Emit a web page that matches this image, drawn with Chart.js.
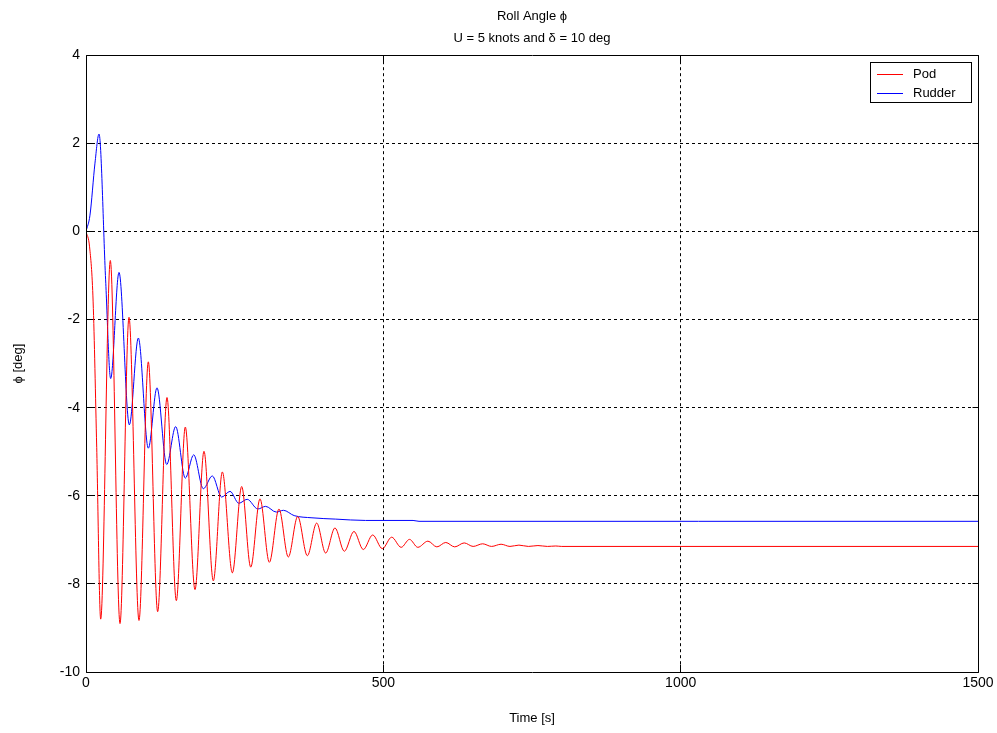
<!DOCTYPE html>
<html><head><meta charset="utf-8">
<script src="https://cdn.jsdelivr.net/npm/chart.js@4.4.1/dist/chart.umd.min.js"></script>
<style>html,body{margin:0;padding:0;background:#fff;overflow:hidden}#wrap{position:relative;width:997px;height:733px}canvas{display:block}</style>
</head><body><div id="wrap"><canvas id="c" width="997" height="733" style="width:997px;height:733px"></canvas></div>
<script>
const titleLines = ['Roll Angle \u03d5', 'U = 5 knots and \u03b4 = 10 deg'];
const xAxisTitle = 'Time [s]';
const yAxisTitle = '\u03d5 [deg]';
const seriesNames = ['Pod', 'Rudder'];
const seriesColors = ['#ff0000', '#0000ff'];
const xTickValues = [0, 500, 1000, 1500];
const yTickValues = [-10, -8, -6, -4, -2, 0, 2, 4];

const podTime = [0, 6, 12, 18, 24.7, 40.9, 57.2, 72.3, 89.1, 104.8, 120.5, 136.2, 151.9, 167.0, 183.3, 198.4, 214.1, 229.3, 246.1, 261.8, 277, 292.6, 308.3, 324.5, 340.2, 356, 372.2, 387.9, 403, 418.7, 434.4, 450.6, 466.3, 482.1, 498.3, 514, 530, 544, 558, 575, 590, 605, 620, 636, 651, 667, 682, 698, 713, 728, 744, 760, 776, 790, 800, 1500];
const podRoll = [0, -0.35, -1.6, -4.9, -8.8, -0.66, -8.9, -1.95, -8.83, -2.96, -8.63, -3.77, -8.38, -4.44, -8.13, -4.99, -7.93, -5.46, -7.75, -5.79, -7.62, -6.07, -7.51, -6.30, -7.39, -6.47, -7.36, -6.62, -7.30, -6.73, -7.26, -6.81, -7.22, -6.89, -7.20, -6.94, -7.17, -6.99, -7.17, -7.03, -7.16, -7.06, -7.16, -7.07, -7.15, -7.09, -7.15, -7.10, -7.15, -7.12, -7.15, -7.13, -7.15, -7.14, -7.15, -7.15];

const rudderTime = [0, 6.7, 15.1, 21.9, 33, 41.5, 55.5, 72.9, 88.0, 104.8, 119.4, 135.7, 150.8, 167.0, 181.1, 197.3, 212.4, 228.1, 242.2, 257, 271, 289, 302, 320, 332, 350, 380, 420, 470, 550, 560, 1500];
const rudderRoll = [0, 0.37, 1.55, 2.21, -1.1, -3.34, -0.93, -4.39, -2.42, -4.92, -3.55, -5.29, -4.43, -5.6, -5.07, -5.84, -5.55, -6.03, -5.9, -6.17, -6.08, -6.30, -6.24, -6.37, -6.33, -6.45, -6.50, -6.53, -6.56, -6.56, -6.58, -6.58];

const FONT = 'Liberation Sans, Arial, Helvetica, sans-serif';
const toXY = (xs, ys) => xs.map((x, i) => ({x: x, y: ys[i]}));
const alignPx = p => Math.round(p - 0.5) + 0.5;

const framePlugin = {
  id: 'frame',
  afterDraw(chart) {
    const {ctx, chartArea: a, scales: {x, y}} = chart;
    ctx.save();
    ctx.setLineDash([]);
    ctx.strokeStyle = '#000';
    ctx.lineWidth = 1;
    const L = alignPx(a.left), R = alignPx(a.right), T = alignPx(a.top), B = alignPx(a.bottom);
    ctx.beginPath();
    ctx.rect(L, T, R - L, B - T);
    x.ticks.forEach(t => {
      const px = alignPx(x.getPixelForValue(t.value));
      ctx.moveTo(px, B); ctx.lineTo(px, B - 8);
      ctx.moveTo(px, T); ctx.lineTo(px, T + 8);
    });
    y.ticks.forEach(t => {
      const py = alignPx(y.getPixelForValue(t.value));
      ctx.moveTo(L, py); ctx.lineTo(L + 6, py);
      ctx.moveTo(R, py); ctx.lineTo(R - 6, py);
    });
    ctx.stroke();
    // legend box
    const bw = 101, bh = 40;
    const bx = Math.round(a.right) - 108, by = Math.round(a.top) + 7;
    ctx.fillStyle = '#fff';
    ctx.fillRect(bx, by, bw, bh);
    ctx.strokeRect(bx + 0.5, by + 0.5, bw, bh);
    ctx.font = '13px ' + FONT;
    ctx.textBaseline = 'middle';
    ctx.textAlign = 'left';
    chart.data.datasets.forEach((ds, i) => {
      const cy = by + 12.5 + i * 19;
      ctx.strokeStyle = ds.borderColor;
      ctx.beginPath();
      ctx.moveTo(bx + 7, cy); ctx.lineTo(bx + 33, cy);
      ctx.stroke();
      ctx.fillStyle = '#000';
      ctx.fillText(ds.label, bx + 43, cy);
    });
    ctx.restore();
  }
};

const edgeColor = (vals) => (c) => {
  const v = c.tick ? c.tick.value : null;
  return (v === vals[0] || v === vals[vals.length - 1]) ? 'rgba(0,0,0,0)' : '#000';
};

new Chart(document.getElementById('c'), {
  type: 'line',
  data: {
    datasets: [
      {label: seriesNames[0], data: toXY(podTime, podRoll), borderColor: seriesColors[0], borderWidth: 1, pointRadius: 0, cubicInterpolationMode: 'monotone', fill: false},
      {label: seriesNames[1], data: toXY(rudderTime, rudderRoll), borderColor: seriesColors[1], borderWidth: 1, pointRadius: 0, cubicInterpolationMode: 'monotone', fill: false}
    ]
  },
  options: {
    responsive: false,
    animation: false,
    devicePixelRatio: 1,
    layout: {padding: {left: 0, right: 19, top: 0, bottom: 0}},
    plugins: {
      legend: {display: false},
      tooltip: {enabled: false},
      title: {display: true, text: titleLines, fullSize: false, color: '#000',
        font: {family: FONT, size: 13, weight: 'normal', lineHeight: 1.7}, padding: {top: 5, bottom: 6}}
    },
    scales: {
      x: {
        type: 'linear', min: 0, max: 1500,
        afterBuildTicks: s => { s.ticks = xTickValues.map(v => ({value: v})); },
        afterFit: s => { s.height = 61; },
        ticks: {color: '#000', font: {family: FONT, size: 14}, padding: 3, maxRotation: 0, autoSkip: false,
          callback: v => String(v)},
        grid: {color: edgeColor(xTickValues), lineWidth: 1, drawTicks: false},
        border: {display: false, dash: [3, 3]},
        title: {display: true, text: xAxisTitle, color: '#000', font: {family: FONT, size: 13}, padding: {top: 0, bottom: 7}}
      },
      y: {
        type: 'linear', min: -10, max: 4,
        afterBuildTicks: s => { s.ticks = yTickValues.map(v => ({value: v})); },
        afterFit: s => { s.width = 86; },
        ticks: {color: '#000', font: {family: FONT, size: 14}, padding: 6, autoSkip: false,
          callback: v => String(v)},
        grid: {color: edgeColor(yTickValues), lineWidth: 1, drawTicks: false},
        border: {display: false, dash: [3, 3]},
        title: {display: true, text: yAxisTitle, color: '#000', font: {family: FONT, size: 13}, padding: {top: 11, bottom: 0}}
      }
    }
  },
  plugins: [framePlugin]
});
</script>
</body></html>
